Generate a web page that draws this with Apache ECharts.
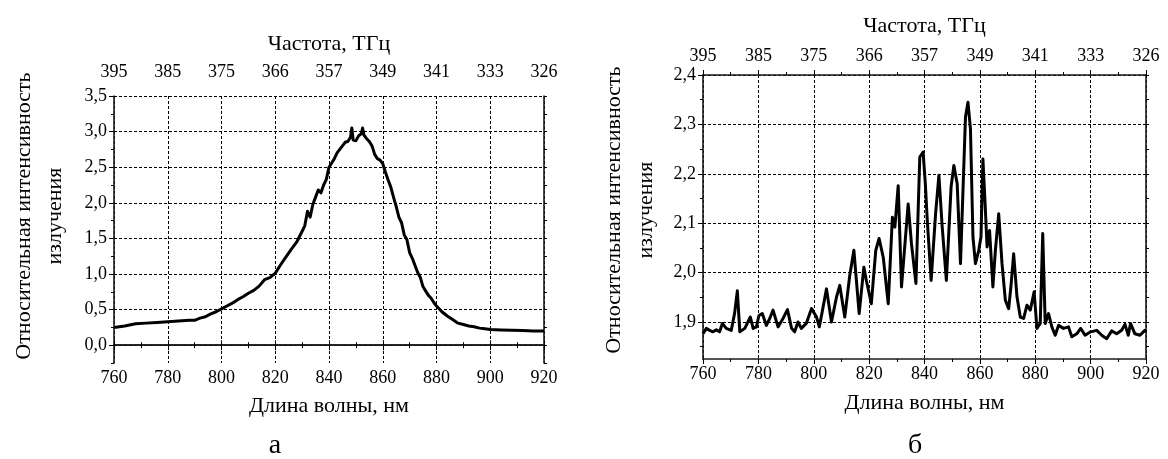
<!DOCTYPE html>
<html>
<head>
<meta charset="utf-8">
<script src="https://cdn.jsdelivr.net/npm/echarts@6/dist/echarts.min.js"></script>
<style>
html,body{margin:0;padding:0;background:#fff;}
#chart{width:1168px;height:459px;}
</style>
</head>
<body>
<div id="chart"></div>
<script>
// ---- data ----
const wavelengthTicks = [760, 780, 800, 820, 840, 860, 880, 900, 920];
const freqLabels = ['395', '385', '375', '366', '357', '349', '341', '333', '326'];
const leftYTicks = [0, 0.5, 1.0, 1.5, 2.0, 2.5, 3.0, 3.5];
const leftYMinorTicks = [-0.25, 0.25, 0.75, 1.25, 1.75, 2.25, 2.75, 3.25];
const rightYTicks = [1.9, 2.0, 2.1, 2.2, 2.3, 2.4];
const rightYMinorTicks = [1.85, 1.95, 2.05, 2.15, 2.25, 2.35];

const leftWl = [760,764,768,772,776,780,784,788,790,792,794,796,798,800,802,804,806,808,810,812,814,816,818,820,822,824,826,828,830,831,832,833,834,835,836,837,838,839,840,841,842,843,844,845,846,847,848,848.5,849,850,851,852,852.5,853,854,855,856,857,858,859,860,861,862,863,864,865,866,867,868,869,870,871,872,873,874,875,876,877,878,879,880,882,884,886,888,890,892,894,896,898,900,904,908,912,916,920];
const leftIntensity = [0.25,0.27,0.30,0.31,0.32,0.33,0.34,0.35,0.35,0.38,0.40,0.44,0.47,0.51,0.55,0.59,0.64,0.68,0.73,0.77,0.83,0.92,0.95,1.01,1.13,1.24,1.35,1.45,1.60,1.68,1.88,1.80,1.98,2.08,2.18,2.14,2.25,2.33,2.50,2.56,2.62,2.70,2.75,2.80,2.85,2.86,2.92,3.05,2.88,2.87,2.94,2.97,3.05,2.95,2.90,2.86,2.80,2.68,2.62,2.60,2.55,2.43,2.32,2.22,2.08,1.95,1.80,1.72,1.55,1.48,1.30,1.22,1.12,1.02,0.95,0.82,0.76,0.70,0.66,0.60,0.55,0.47,0.41,0.36,0.31,0.29,0.27,0.26,0.24,0.23,0.22,0.215,0.21,0.205,0.20,0.20];

const rightWl = [760,761.2,762.4,763.6,764.8,766,767,768.4,770.2,771.4,772.4,773.3,775.1,777.1,778.1,779.3,780.2,781.4,782.9,784.1,785.3,787.1,788.9,790.5,792,793.1,794.3,795.5,797.3,799.2,801,802,802.8,804.6,806.4,808.2,809.4,811.2,813,814.5,816.4,818.1,819,820.8,822.4,823.6,825.1,826.9,828.4,829.3,830.5,831.7,834.1,835.3,836.9,838.3,839.5,840.3,841,842.4,844,845.2,846.4,847.9,849.6,850.6,851.8,853,854.8,855.7,856.6,857.5,858.4,859.6,860.4,861.1,862,862.6,863.5,864.7,865.6,866.8,868,869.2,870.4,871.2,872.2,873.4,874.6,875.8,877,878.2,879.6,880.6,881.8,882.7,883.6,884.8,886,887.2,888.4,890.2,892,893.2,895,896.4,898,900,902.2,904,905.8,907.6,909.4,911.2,912.4,913.6,914.4,916,917.8,919.6,920];
const rightIntensity = [1.876,1.887,1.883,1.880,1.884,1.880,1.897,1.887,1.883,1.917,1.963,1.880,1.887,1.910,1.887,1.890,1.913,1.917,1.893,1.907,1.924,1.890,1.907,1.925,1.887,1.880,1.900,1.887,1.897,1.927,1.910,1.890,1.913,1.967,1.900,1.950,1.974,1.910,1.994,2.045,1.917,2.011,1.984,1.937,2.045,2.069,2.031,1.937,2.112,2.092,2.176,1.971,2.139,2.058,1.978,2.234,2.244,2.180,2.106,1.984,2.119,2.197,2.092,1.984,2.173,2.217,2.180,2.018,2.315,2.345,2.291,2.072,2.018,2.045,2.072,2.230,2.126,2.052,2.085,1.971,2.045,2.119,2.018,1.944,1.927,1.971,2.038,1.951,1.910,1.907,1.934,1.924,1.961,1.887,1.897,2.079,1.897,1.917,1.890,1.873,1.893,1.887,1.890,1.870,1.876,1.887,1.873,1.880,1.883,1.873,1.866,1.882,1.876,1.883,1.895,1.873,1.897,1.876,1.873,1.883,1.880];

// ---- chart ----
const FONT = '"Liberation Serif", "Times New Roman", "DejaVu Serif", serif';
const INK = '#000';
const axisLineStyle = { lineStyle: { color: '#1a1a1a', width: 1.6 } };
const gridLine = { show: true, lineStyle: { color: '#000', width: 1, type: [3, 2] } };
const comma = v => v.toFixed(1).replace('.', ',');

function pairs(xs, ys) { return xs.map((x, i) => [x, ys[i]]); }

function xAxesFor(gridIndex, cfg) {
  const base = {
    type: 'value', gridIndex, min: 760, max: 920, interval: 20,
    axisLine: axisLineStyle,
    axisTick: { show: true, length: 5, lineStyle: { color: '#000', width: 1 } },
    minorTick: { show: true, splitNumber: 2, length: 3, lineStyle: { color: '#000', width: 1 } }
  };
  return [
    Object.assign({}, base, {
      position: 'bottom',
      splitLine: gridLine,
      axisLabel: { color: INK, fontFamily: FONT, fontSize: 18, margin: cfg.bottomMargin },
      name: 'Длина волны, нм', nameLocation: 'middle', nameGap: cfg.bottomNameGap,
      nameTextStyle: { color: INK, fontFamily: FONT, fontSize: 22 }
    }),
    Object.assign({}, base, {
      position: 'top',
      splitLine: { show: false },
      axisLabel: {
        color: INK, fontFamily: FONT, fontSize: 18, margin: cfg.topMargin,
        formatter: v => { const i = wavelengthTicks.indexOf(v); return i >= 0 ? freqLabels[i] : ''; }
      },
      name: 'Частота, ТГц', nameLocation: 'middle', nameGap: cfg.topNameGap,
      nameTextStyle: { color: INK, fontFamily: FONT, fontSize: 22 }
    })
  ];
}

function yAxesFor(gridIndex, min, max, ticks, minorTicks) {
  const allTicks = ticks.concat(minorTicks);
  return [
    {
      type: 'value', gridIndex, position: 'left', min, max,
      axisLine: axisLineStyle,
      axisTick: { show: true, length: 5, customValues: ticks, lineStyle: { color: '#000', width: 1 } },
      axisLabel: { color: INK, fontFamily: FONT, fontSize: 18, margin: 7, customValues: ticks, formatter: comma },
      splitLine: gridLine
    },
    {
      type: 'value', gridIndex, position: 'left', min, max,
      axisLine: { show: false },
      axisTick: { show: true, length: 3, customValues: minorTicks, lineStyle: { color: '#000', width: 1 } },
      axisLabel: { show: false, customValues: minorTicks }, splitLine: { show: false }
    },
    {
      type: 'value', gridIndex, position: 'right', min, max,
      axisLine: axisLineStyle,
      axisTick: { show: true, length: 3, customValues: allTicks, lineStyle: { color: '#000', width: 1 } },
      axisLabel: { show: false, customValues: allTicks }, splitLine: { show: false }
    }
  ];
}

const chart = echarts.init(document.getElementById('chart'), null, { renderer: 'canvas' });

const xA = xAxesFor(0, { bottomMargin: 6, topMargin: 15, bottomNameGap: 32, topNameGap: 41 })
  .concat(xAxesFor(1, { bottomMargin: 6, topMargin: 10, bottomNameGap: 33, topNameGap: 38 }));
const yA = yAxesFor(0, -0.25, 3.5, leftYTicks, leftYMinorTicks)
  .concat(yAxesFor(1, 1.825, 2.4, rightYTicks, rightYMinorTicks));

function titleText(x, y, text, rot, size) {
  return {
    type: 'text', x, y, rotation: rot || 0,
    style: { text, font: (size || 22) + 'px ' + FONT, fill: INK, textAlign: 'center', textVerticalAlign: 'middle' }
  };
}

chart.setOption({
  animation: false,
  backgroundColor: '#fff',
  grid: [
    { left: 114, top: 96, width: 430, height: 267 },
    { left: 703, top: 75, width: 443, height: 284 }
  ],
  xAxis: xA,
  yAxis: yA,
  series: [
    {
      type: 'line', xAxisIndex: 0, yAxisIndex: 0, showSymbol: false, symbol: 'none',
      lineStyle: { color: '#000', width: 3, join: 'round' }, data: pairs(leftWl, leftIntensity)
    },
    {
      type: 'line', xAxisIndex: 2, yAxisIndex: 3, showSymbol: false, symbol: 'none',
      lineStyle: { color: '#000', width: 3, join: 'round' }, data: pairs(rightWl, rightIntensity)
    }
  ],
  graphic: [
    titleText(24, 216, 'Относительная интенсивность', Math.PI / 2),
    titleText(55, 216, 'излучения', Math.PI / 2),
    titleText(614, 210, 'Относительная интенсивность', Math.PI / 2),
    titleText(646, 210, 'излучения', Math.PI / 2),
    titleText(275, 446, 'а', 0, 28),
    titleText(915, 446, 'б', 0, 28)
  ]
});
</script>
</body>
</html>
